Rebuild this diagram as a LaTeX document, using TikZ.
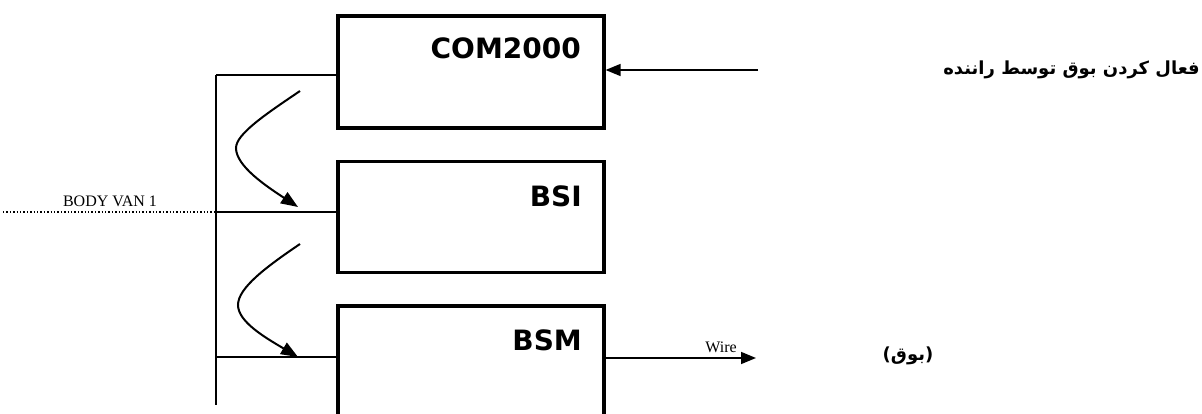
\documentclass[tikz,border=0pt]{standalone}
\usepackage{fontspec}
\usetikzlibrary{arrows.meta}
\setmainfont{Liberation Serif}
\newfontfamily\boxfont{DejaVu Sans}
\newfontfamily\arabicfont[Script=Arabic]{DejaVu Sans}
\TeXXeTstate=1
\begin{document}
\begin{tikzpicture}[x=1pt,y=-1pt,
  box/.style={draw,line width=3.2pt,inner sep=0pt},
  boxlabel/.style={font=\boxfont\bfseries\fontsize{28}{30}\selectfont,inner sep=0pt,anchor=east},
  wire/.style={line width=1.5pt},
  curv/.style={line width=2pt,-{Triangle[length=17pt,width=13pt]}},
  arr/.style={line width=1.5pt,-{Triangle[length=15pt,width=12pt]}},
  small/.style={font=\fontsize{16}{17}\selectfont,inner sep=0pt},
  fa/.style={font=\arabicfont\bfseries\fontsize{18}{20}\selectfont,inner sep=0pt}]
\useasboundingbox (0,0) rectangle (1202,414);
% boxes
\node[box,minimum width=266pt,minimum height=112pt] (com) at (471,72) {};
\node[box,minimum width=266pt,minimum height=111pt] (bsi) at (471,217) {};
\node[box,minimum width=266pt,minimum height=120pt] (bsm) at (471,366) {};
\node[boxlabel] (tcom) at (581,48) {COM2000};
\node[boxlabel] (tbsi) at (582,196) {BSI};
\node[boxlabel] (tbsm) at (582,340) {BSM};
% bus
\coordinate (bt) at (216,75);
\coordinate (bb) at (216,405);
\coordinate (b1) at (216,212);
\coordinate (b2) at (216,357);
\coordinate (dl) at (3,212);
\draw[wire] (bt) -- (bb);
\draw[wire] (bt) -- (com.west |- bt);
\draw[wire] (b1) -- (bsi.west |- b1);
\draw[wire] (b2) -- (bsm.west |- b2);
\draw[line width=1.4pt,dotted] (dl) -- (b1);
\node[small,anchor=base] (body) at (110,207) {BODY VAN 1};
% curved arrows
\coordinate (c1s) at (300,91);
\coordinate (c1m) at (236,148);
\coordinate (c1e) at (298,207);
\coordinate (c2s) at (300,244);
\coordinate (c2m) at (238,305);
\coordinate (c2e) at (298,357);
\draw[curv] (c1s) .. controls (266,114) and (236,134) .. (c1m) .. controls (236,166) and (266,186) .. (c1e);
\draw[curv] (c2s) .. controls (266,267) and (238,288) .. (c2m) .. controls (238,322) and (266,338) .. (c2e);
% input arrow
\coordinate (in) at (758,70);
\draw[arr] (in) -- (com.east |- in);
\node[fa,anchor=east] (fa1) at (1200,70) {\beginR فعال کردن بوق توسط راننده\endR};
% output
\coordinate (out) at (756,358);
\draw[arr] (bsm.east |- out) -- (out);
\node[small,anchor=base] (wl) at (721,352) {Wire};
\node[fa] (fa2) at (908,356) {\beginR(بوق)\endR};
\end{tikzpicture}
\end{document}
